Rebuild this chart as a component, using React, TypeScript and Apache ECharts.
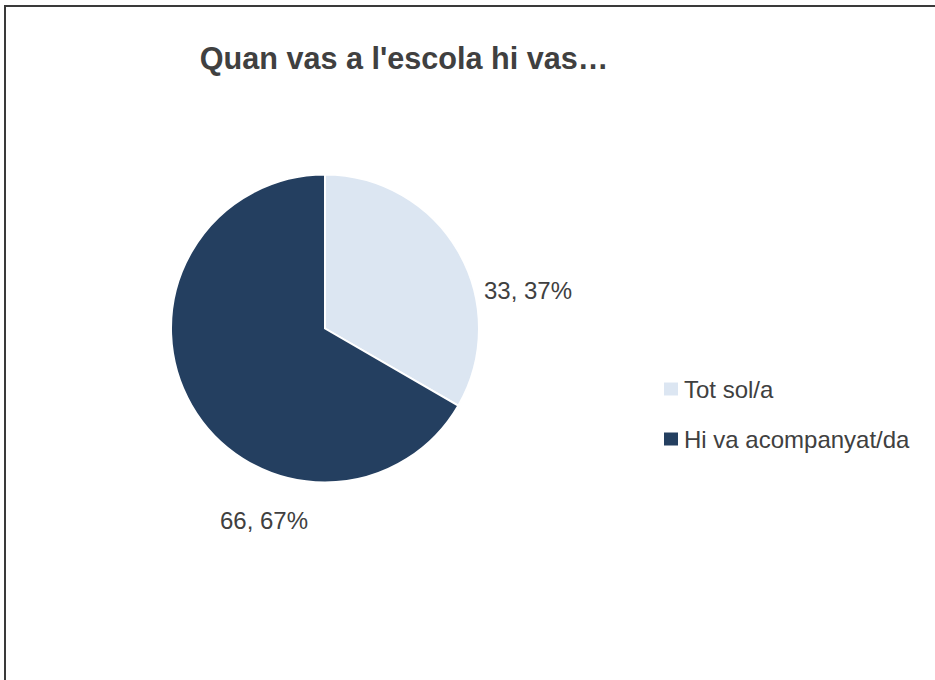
import React, { useEffect, useRef } from "react";
import * as echarts from "echarts";

const titleText = "Quan vas a l'escola hi vas…";
const categories = ["Tot sol/a", "Hi va acompanyat/da"];
const values = [33.37, 66.67];
const labelTexts = ["33, 37%", "66, 67%"];
const colors = ["#DCE6F2", "#243F60"];

const FONT = "'Liberation Sans Narrow', 'Arial Narrow', 'Liberation Sans', Arial, sans-serif";

export default function App() {
  const ref = useRef<HTMLDivElement>(null);
  useEffect(() => {
    if (!ref.current) return;
    const chart = echarts.init(ref.current, null, { renderer: "svg" });
    const labelPos = [
      { x: 528, y: 290 },
      { x: 264, y: 520 },
    ];
    chart.setOption({
      animation: false,
      backgroundColor: "#ffffff",
      title: {
        text: titleText,
        left: 399,
        top: 37,
        textAlign: "center",
        textStyle: {
          fontFamily: FONT,
          fontSize: 30.6,
          fontWeight: "bold",
          color: "#404040",
        },
      },
      legend: {
        orient: "vertical",
        left: 657,
        top: 369,
        itemWidth: 16,
        itemHeight: 15,
        itemGap: 20,
        icon: "rect",
        data: categories,
        textStyle: {
          fontFamily: FONT,
          fontSize: 24,
          lineHeight: 30,
          color: "#404040",
        },
      },
      graphic: [
        {
          type: "rect",
          shape: { x: 5, y: 6, width: 2000, height: 2000 },
          style: { fill: "none", stroke: "#3a3a3a", lineWidth: 2 },
          silent: true,
        },
      ],
      series: [
        {
          type: "pie",
          center: [325, 328.5],
          radius: 154,
          startAngle: 90,
          clockwise: true,
          itemStyle: { borderColor: "#ffffff", borderWidth: 2 },
          label: {
            show: true,
            position: "outside",
            fontFamily: FONT,
            fontSize: 24,
            color: "#404040",
            formatter: (p: any) => labelTexts[p.dataIndex],
          },
          labelLine: { show: false },
          labelLayout: (p: any) => ({
            x: labelPos[p.dataIndex].x,
            y: labelPos[p.dataIndex].y,
            align: "center",
            verticalAlign: "middle",
          }),
          emphasis: { disabled: true },
          data: categories.map((c, i) => ({
            name: c,
            value: values[i],
            itemStyle: { color: colors[i] },
          })),
        },
      ],
    });
    return () => chart.dispose();
  }, []);
  return (
    <div
      ref={ref}
      style={{ position: "fixed", left: 0, top: 0, width: 935, height: 680 }}
    />
  );
}
